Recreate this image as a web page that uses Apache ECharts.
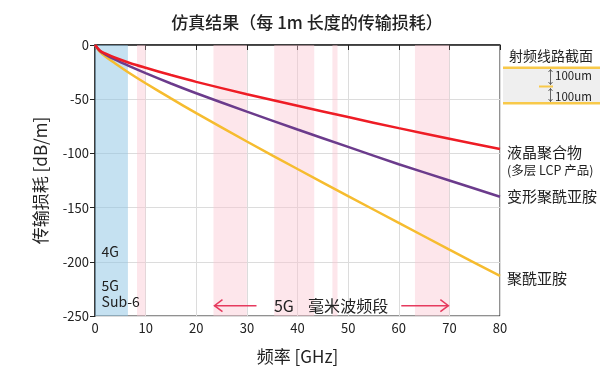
<!DOCTYPE html>
<html><head><meta charset="utf-8">
<script src="https://cdn.jsdelivr.net/npm/echarts@6/dist/echarts.min.js"></script>
<style>html,body{margin:0;padding:0;background:#fff}#c{width:600px;height:380px}</style>
</head><body><div id="c"></div>
<script>
const FONT = '"Noto Sans CJK SC","Noto Sans",sans-serif';
const freq = [0, 1, 2, 4, 7, 10, 15, 20, 30, 40, 50, 60, 70, 80];
const lcp  = [0, -5.3, -7.8, -11.8, -16.8, -21, -27.7, -34, -45.4, -56, -66.5, -76.7, -86.4, -96];
const mpi  = [0, -5.6, -8.6, -13.6, -20, -26, -35.5, -44.5, -61.5, -78, -94, -110, -125, -140];
const pi   = [0, -6.4, -10.4, -17, -26.5, -35.3, -49.3, -62.8, -89, -114.4, -139.5, -164, -188.8, -213];
const seriesNames = ['液晶聚合物', '变形聚酰亚胺', '聚酰亚胺'];
const lcpSub = '(多层 LCP 产品)';
const blueBand = [0, 6.5];
const pinkBands = [[8.3, 10], [23.4, 30], [35.4, 43.3], [46.9, 47.9], [63.2, 70]];
const xTicks = [0, 10, 20, 30, 40, 50, 60, 70, 80];
const yTicks = [0, -50, -100, -150, -200, -250];
const bandNotes = [['4G', 1.3, -191], ['5G', 1.3, -222], ['Sub-6', 1.3, -236.6]];
const mmwLabel = ['5G', '毫米波频段'];
const mmwPos = { y: -240.5, leftArrow: [23.6, 31.9], rightArrow: [60.5, 69.8], t1: 37.3, t2: 50 };

const chart = echarts.init(document.getElementById('c'), null, { renderer: 'canvas' });
const mk = (d) => d.map((v, i) => [freq[i], v]);
const option = {
  animation: false,
  textStyle: { fontFamily: FONT },
  title: { text: '仿真结果（每 1m 长度的传输损耗）', left: 302, textAlign: 'center', top: 9,
    textStyle: { fontSize: 17, fontWeight: 500, color: '#222', fontFamily: FONT } },
  grid: { left: 95, right: 100, top: 45, bottom: 64, show: true, borderColor: '#222', borderWidth: 1 },
  xAxis: { type: 'value', min: 0, max: 80, interval: 10,
    name: '频率 [GHz]', nameLocation: 'middle', nameGap: 32,
    nameTextStyle: { fontSize: 17, color: '#222', fontFamily: FONT },
    axisLine: { lineStyle: { color: '#222', width: 1.5 } },
    axisTick: { show: true, length: 5, lineStyle: { color: '#222' } },
    axisLabel: { fontSize: 13, color: '#222', margin: 6, formatter: v => xTicks.includes(v) ? String(v) : '' },
    splitLine: { show: true, lineStyle: { color: '#dcdcdc', width: 1 } } },
  yAxis: { type: 'value', min: -250, max: 0, interval: 50,
    name: '传输损耗 [dB/m]', nameLocation: 'middle', nameGap: 46,
    nameTextStyle: { fontSize: 17, color: '#222', fontFamily: FONT },
    axisLine: { lineStyle: { color: '#222', width: 1.5 } },
    axisTick: { show: true, length: 5, lineStyle: { color: '#222' } },
    axisLabel: { fontSize: 13, color: '#222', margin: 6, formatter: v => yTicks.includes(v) ? String(v) : '' },
    splitLine: { show: true, lineStyle: { color: '#dcdcdc', width: 1 } } },
  series: [
    { type: 'line', data: [], z: 1, silent: true,
      markArea: { silent: true, data: [
        [{ xAxis: blueBand[0], itemStyle: { color: 'rgba(140,195,228,0.5)' } }, { xAxis: blueBand[1] }],
        ...pinkBands.map(b => [{ xAxis: b[0], itemStyle: { color: 'rgba(250,195,208,0.42)' } }, { xAxis: b[1] }])
      ] } },
    { name: seriesNames[0], type: 'line', data: mk(lcp), smooth: 0.3, showSymbol: false, z: 5,
      lineStyle: { color: '#ee1c25', width: 2.5 },
      endLabel: { show: true, distance: 7, offset: [0, 12], color: '#222', fontFamily: FONT,
        formatter: () => '{a|' + seriesNames[0] + '}\n{b|' + lcpSub + '}',
        rich: { a: { fontSize: 15, color: '#222', lineHeight: 18, fontFamily: FONT },
                b: { fontSize: 12.5, color: '#222', lineHeight: 18, fontFamily: FONT } } } },
    { name: seriesNames[1], type: 'line', data: mk(mpi), smooth: 0.3, showSymbol: false, z: 4,
      lineStyle: { color: '#6b3b8c', width: 2.5 },
      endLabel: { show: true, distance: 7, color: '#222', fontSize: 15, fontFamily: FONT, formatter: () => seriesNames[1] } },
    { name: seriesNames[2], type: 'line', data: mk(pi), smooth: 0.3, showSymbol: false, z: 3,
      lineStyle: { color: '#f6bc2f', width: 2.5 },
      endLabel: { show: true, distance: 7, offset: [0, 2], color: '#222', fontSize: 15, fontFamily: FONT, formatter: () => seriesNames[2] } }
  ]
};
chart.setOption(option);

const P = (x, y) => chart.convertToPixel({ gridIndex: 0 }, [x, y]);
const g = [];
bandNotes.forEach(n => {
  const p = P(n[1], n[2]);
  g.push({ type: 'text', x: p[0], y: p[1], z: 10,
    style: { text: n[0], fontSize: 14, fill: '#222', fontFamily: FONT, textVerticalAlign: 'middle' } });
});
const AC = '#e63a5e';
const la = [P(mmwPos.leftArrow[0], mmwPos.y), P(mmwPos.leftArrow[1], mmwPos.y)];
const ra = [P(mmwPos.rightArrow[0], mmwPos.y), P(mmwPos.rightArrow[1], mmwPos.y)];
g.push({ type: 'polyline', z: 10, shape: { points: [la[0], la[1]] }, style: { stroke: AC, lineWidth: 1.5, fill: null } });
g.push({ type: 'polyline', z: 10, shape: { points: [[la[0][0] + 8, la[0][1] - 6], la[0], [la[0][0] + 8, la[0][1] + 6]] }, style: { stroke: AC, lineWidth: 1.5, fill: null } });
g.push({ type: 'polyline', z: 10, shape: { points: [ra[0], ra[1]] }, style: { stroke: AC, lineWidth: 1.5, fill: null } });
g.push({ type: 'polyline', z: 10, shape: { points: [[ra[1][0] - 8, ra[1][1] - 6], ra[1], [ra[1][0] - 8, ra[1][1] + 6]] }, style: { stroke: AC, lineWidth: 1.5, fill: null } });
const t1 = P(mmwPos.t1, mmwPos.y), t2 = P(mmwPos.t2, mmwPos.y);
g.push({ type: 'text', x: t1[0], y: t1[1], z: 10, style: { text: mmwLabel[0], fontSize: 16, fill: '#222', fontFamily: FONT, textAlign: 'center', textVerticalAlign: 'middle' } });
g.push({ type: 'text', x: t2[0], y: t2[1], z: 10, style: { text: mmwLabel[1], fontSize: 16, fill: '#222', fontFamily: FONT, textAlign: 'center', textVerticalAlign: 'middle' } });

// cross-section diagram
const Y = '#f8c94a';
g.push({ type: 'text', x: 551, y: 56, style: { text: '射频线路截面', fontSize: 14, fill: '#222', fontFamily: FONT, textAlign: 'center', textVerticalAlign: 'middle' } });
g.push({ type: 'rect', shape: { x: 503, y: 68, width: 97, height: 35 }, style: { fill: '#efefef' } });
g.push({ type: 'rect', shape: { x: 503, y: 66.5, width: 97, height: 2.5 }, style: { fill: Y } });
g.push({ type: 'rect', shape: { x: 503, y: 102, width: 97, height: 2.5 }, style: { fill: Y } });
g.push({ type: 'rect', shape: { x: 539, y: 85.5, width: 14, height: 2 }, style: { fill: Y } });
[[69.5, 84.5], [88.5, 101.5]].forEach(r => {
  g.push({ type: 'line', shape: { x1: 550.5, y1: r[0], x2: 550.5, y2: r[1] }, style: { stroke: '#444', lineWidth: 0.8 } });
  g.push({ type: 'polyline', shape: { points: [[548.5, r[0] + 2.5], [550.5, r[0]], [552.5, r[0] + 2.5]] }, style: { stroke: '#444', lineWidth: 0.8, fill: null } });
  g.push({ type: 'polyline', shape: { points: [[548.5, r[1] - 2.5], [550.5, r[1]], [552.5, r[1] - 2.5]] }, style: { stroke: '#444', lineWidth: 0.8, fill: null } });
});
g.push({ type: 'text', x: 555, y: 76, style: { text: '100um', fontSize: 11.5, fill: '#222', fontFamily: FONT, textVerticalAlign: 'middle' } });
g.push({ type: 'text', x: 555, y: 96.5, style: { text: '100um', fontSize: 11.5, fill: '#222', fontFamily: FONT, textVerticalAlign: 'middle' } });
chart.setOption({ graphic: { elements: g } });
</script></body></html>
